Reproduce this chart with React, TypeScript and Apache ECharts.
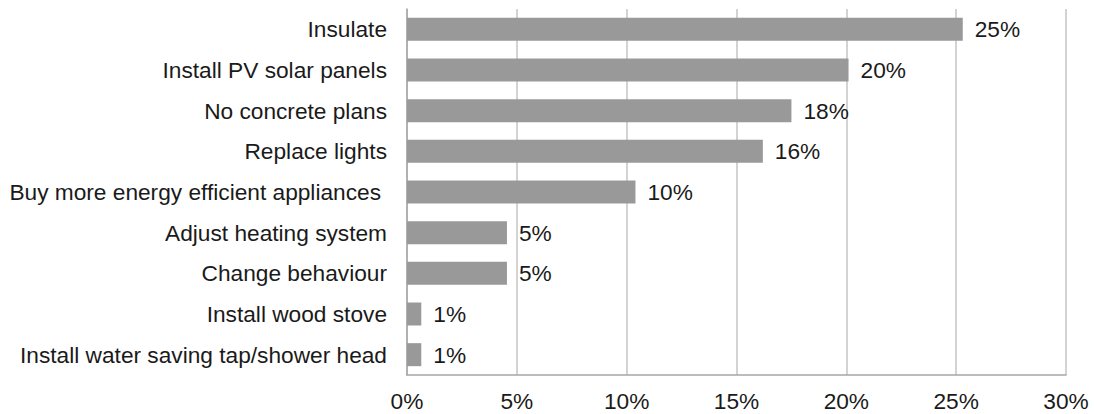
import React, { useEffect, useRef } from "react";
import * as echarts from "echarts";

const categories = [
  "Insulate",
  "Install PV solar panels",
  "No concrete plans",
  "Replace lights",
  "Buy more energy efficient appliances",
  "Adjust heating system",
  "Change behaviour",
  "Install wood stove",
  "Install water saving tap/shower head",
];
const values = [25.3, 20.1, 17.5, 16.2, 10.4, 4.55, 4.55, 0.65, 0.65];
const valueLabels = ["25%", "20%", "18%", "16%", "10%", "5%", "5%", "1%", "1%"];
const xTicks = { min: 0, max: 30, interval: 5 };

export default function App() {
  const ref = useRef<HTMLDivElement>(null);
  useEffect(() => {
    if (!ref.current) return;
    const chart = echarts.init(ref.current, null, { renderer: "svg" });
    const font = "'Liberation Sans', Arial, sans-serif";
    const fs = 22.7;
    const txt = "#1a1a1a";
    chart.setOption({
      animation: false,
      backgroundColor: "#ffffff",
      grid: { left: 407, right: 28, top: 9, bottom: 39, containLabel: false },
      xAxis: {
        type: "value",
        min: xTicks.min,
        max: xTicks.max,
        interval: xTicks.interval,
        axisLine: { show: true, lineStyle: { color: "#a6a6a6", width: 1.5 } },
        axisTick: { show: false },
        splitLine: { show: true, lineStyle: { color: "#c4c4c4", width: 1.5 } },
        axisLabel: {
          formatter: "{value}%",
          color: txt,
          fontSize: fs,
          fontFamily: font,
          margin: 14,
        },
      },
      yAxis: {
        type: "category",
        data: categories,
        inverse: true,
        axisLine: { show: true, lineStyle: { color: "#a6a6a6", width: 1.5 } },
        axisTick: { show: false },
        axisLabel: {
          color: txt,
          fontSize: fs,
          fontFamily: font,
          margin: 20,
          formatter: (v: string) =>
            v === "Buy more energy efficient appliances" ? `{p|${v}}` : v,
          rich: {
            p: {
              color: txt,
              fontSize: fs,
              fontFamily: font,
              padding: [0, 6, 0, 0],
            },
          },
        },
      },
      series: [
        {
          type: "bar",
          data: values,
          barWidth: 23,
          itemStyle: { color: "#999999" },
          label: {
            show: true,
            position: "right",
            distance: 12,
            color: txt,
            fontSize: fs,
            fontFamily: font,
            formatter: (p: any) => valueLabels[p.dataIndex],
          },
        },
      ],
    });
    return () => chart.dispose();
  }, []);
  return (
    <div
      ref={ref}
      style={{ position: "absolute", left: 0, top: 0, width: 1094, height: 414 }}
    />
  );
}
